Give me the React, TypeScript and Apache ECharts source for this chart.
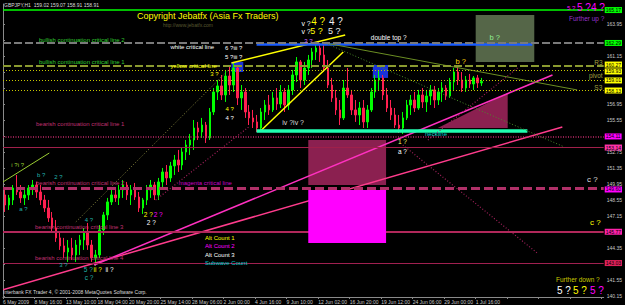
import React, { useEffect, useRef } from "react";
import * as echarts from "echarts";

// ---------- data ----------
const timeLabels = ["6 May 2009", "8 May 16:00", "13 May 10:00", "18 May 04:00", "20 May 20:00", "25 May 14:00", "28 May 06:00", "2 Jun 00:00", "4 Jun 16:00", "9 Jun 10:00", "12 Jun 02:00", "16 Jun 20:00", "19 Jun 12:00", "24 Jun 06:00", "29 Jun 00:00", "1 Jul 16:00"];
const priceTicks = [140.15, 141.55, 142.95, 144.35, 145.75, 147.15, 148.55, 149.95, 151.35, 152.75, 154.15, 155.55, 156.95, 158.35, 159.75, 161.15, 162.55, 163.95];
// tick labels not hidden behind the price-level boxes
const priceTickLabels = [140.15, 141.55, 144.35, 147.15, 148.55, 149.95, 151.35, 152.75, 155.55, 156.95, 161.15, 163.95];

// each drawn candle groups 8 H1 bars (bar index 8k..8k+7)
const opens = [148.99,148.11,148.55,149.60,149.25,148.73,148.99,149.60,149.86,149.25,148.55,147.85,146.98,146.10,145.23,144.53,144.00,144.35,143.74,144.61,145.05,145.75,144.61,143.48,143.74,145.93,147.24,148.38,148.99,148.73,149.43,149.86,148.99,149.43,148.81,147.85,148.55,149.43,149.86,148.99,150.13,151.00,150.48,151.53,152.05,151.61,152.75,153.36,153.80,154.85,154.50,155.11,153.98,156.25,158.00,158.53,157.74,159.40,158.61,160.10,157.48,158.00,156.25,155.73,155.38,154.85,156.25,156.86,156.43,157.48,156.95,158.00,156.86,158.18,159.49,160.63,159.05,160.10,160.80,161.50,161.85,161.24,160.10,158.61,157.48,156.43,155.73,158.35,157.74,156.43,155.99,156.60,155.38,156.43,158.00,159.05,159.23,157.74,156.60,155.99,155.11,154.85,155.73,156.86,157.30,156.60,157.74,157.13,157.65,158.18,157.30,158.00,158.35,157.65,158.88,159.75,159.05,158.35,159.05,158.70,159.23,158.79];
const closes = [148.11,148.73,149.60,149.25,148.73,148.99,149.60,149.86,149.25,148.55,147.85,146.98,146.10,145.23,144.53,144.00,144.35,143.74,144.61,145.05,145.75,144.61,143.48,143.74,145.93,147.24,148.38,148.99,148.73,149.43,149.86,148.99,149.43,148.81,147.85,148.55,149.43,149.86,148.99,150.13,151.00,150.48,151.53,152.05,151.61,152.75,153.36,153.80,154.85,154.50,155.11,153.98,156.25,158.00,158.53,157.74,159.40,158.61,160.10,157.48,158.00,156.25,155.73,155.38,154.85,156.25,156.86,156.43,157.48,156.95,158.00,156.86,158.18,159.49,160.63,159.05,160.10,160.80,161.50,161.85,161.24,160.10,158.61,157.48,156.43,155.73,158.35,157.74,156.43,155.99,156.60,155.38,156.43,158.00,159.05,159.23,157.74,156.60,155.99,155.11,154.85,155.73,156.86,157.30,156.60,157.74,157.13,157.65,158.18,157.30,158.00,158.35,157.65,158.88,159.75,159.05,158.35,159.05,158.70,159.23,158.79,158.91];
const lows = [147.50,147.68,148.11,148.99,148.29,148.11,148.55,148.99,148.73,148.11,147.50,146.63,145.75,144.88,144.18,143.48,143.13,143.30,143.13,143.74,144.18,144.18,143.13,142.78,143.48,145.49,146.80,148.11,148.38,148.11,148.73,148.55,148.11,148.55,147.50,147.33,148.11,148.73,148.55,148.55,149.43,149.86,150.13,150.74,151.00,151.18,152.05,152.49,152.93,153.80,153.98,153.54,153.80,155.99,157.30,157.30,157.13,157.74,158.00,156.86,156.43,155.73,155.11,154.85,154.50,154.50,155.55,155.99,156.25,156.43,156.60,156.25,156.43,157.74,158.88,158.35,158.61,159.49,160.10,160.80,160.63,159.75,158.35,157.13,155.99,155.11,155.55,157.48,155.99,155.38,155.11,154.85,154.85,156.25,157.48,158.18,157.30,156.25,155.55,154.85,154.41,154.33,155.55,155.99,156.25,156.43,156.60,156.25,156.86,156.60,156.86,157.13,157.30,157.48,158.18,158.61,158.00,158.00,158.35,158.18,158.35,158.53];
const highs = [149.43,148.99,149.86,150.74,149.86,149.60,149.86,150.30,150.13,149.86,148.99,148.55,147.50,146.80,145.75,145.23,145.05,145.23,145.05,145.49,146.10,146.54,145.05,144.18,146.36,147.50,148.73,149.60,149.60,149.86,150.30,150.13,149.86,150.04,149.25,148.73,149.86,150.30,150.13,150.48,151.35,151.61,151.88,152.49,152.93,153.10,153.80,154.33,155.55,155.38,155.73,155.38,156.60,158.35,159.05,159.49,159.93,160.36,160.63,160.36,158.61,158.35,156.86,156.43,155.99,156.60,157.30,157.74,158.00,158.35,158.61,158.35,158.61,159.93,161.06,160.80,160.63,161.24,161.85,162.38,162.29,162.11,160.80,159.23,158.18,157.30,159.05,160.10,158.18,157.30,157.13,157.30,156.86,158.35,159.49,159.93,159.49,158.35,157.30,156.60,155.99,156.25,157.30,157.74,158.00,158.18,158.35,158.18,158.61,158.53,158.35,158.88,158.61,159.23,160.10,160.36,159.75,159.40,159.58,159.40,159.49,159.23];

// horizontal price levels
const levelPrices = [165.17, 162.29, 160.27, 159.93, 159.01, 158.13, 154.11, 153.14, 149.60, 145.77, 143.03];

// trend lines: [bar1, price1, bar2, price2]
const trendLines = [
  [0, 140.69, 1136, 154.94],
  [185, 142.86, 1116, 159.49],
  [464, 160.54, 695, 162.99],
  [523, 154.59, 691, 161.50],
  [515, 154.59, 1065, 154.59],
  [515, 162.20, 1075, 162.20],
  [654, 162.29, 1166, 158.18],
  [654, 162.29, 1140, 153.19],
  [0, 150.13, 94, 152.66],
  [148, 146.63, 458, 159.93],
  [812, 153.36, 1085, 143.91],
  [310, 148.55, 499, 154.94],
  [863, 153.80, 1045, 160.10],
];

// boxes: [bar1, price1, bar2, price2]
const boxes = [
  [960, 160.62, 1079, 164.74],
  [620, 149.86, 778, 153.80],
  [464, 159.75, 488, 160.63],
  [751, 159.23, 782, 160.36],
];
const magentaBox = [[620, 144.79, 778, 149.43]];
const triangle = [[883, 154.85, 1025, 154.85, 1025, 157.91]];

// text annotations anchored at [bar, price]
const notes: [string, number, number][] = [
  ["bullish continuation critical line 2", 73, 162.55],
  ["white critical line", 340, 161.94],
  ["bullish continuation critical line 1", 73, 160.63],
  ["yellow critical line", 340, 160.27],
  ["double top ?", 747, 162.81],
  ["b ?", 988, 162.81],
  ["b ?", 919, 160.71],
  ["R3", 1201, 160.54],
  ["pivot", 1190, 159.40],
  ["S3", 1201, 158.35],
  ["neckline", 857, 154.33],
  ["1 ?", 802, 153.63],
  ["a ?", 802, 152.75],
  ["c ?", 1186, 150.30],
  ["c ?", 1192, 146.54],
  ["bearish continuation critical line 1", 67, 155.20],
  ["bearish continuation critical line 2", 67, 150.04],
  ["magenta critical line", 357, 150.04],
  ["bearish continuation critical line 3", 65, 146.19],
  ["bearish continuation critical line 4", 65, 143.48],
  ["v ?", 606, 163.95],
  ["4 ?", 626, 164.21],
  ["4 ?", 662, 164.21],
  ["v ?", 606, 163.25],
  ["5 ?", 624, 163.34],
  ["5 ?", 660, 163.34],
  ["3 ?", 612, 162.46],
  ["6 ?iii ?", 451, 161.85],
  ["5 ?iii ?", 451, 161.06],
  ["3 ?", 421, 159.58],
  ["4 ?", 452, 156.51],
  ["4 ?", 452, 155.73],
  ["iv ?iv ?", 567, 155.29],
  ["i ?i ?", 17, 151.61],
  ["b ?", 69, 150.74],
  ["2 ?", 104, 150.57],
  ["a ?", 33, 147.76],
  ["4 ?", 166, 146.80],
  ["3 ?", 114, 142.86],
  ["5 ?", 164, 142.43],
  ["ii ?", 184, 142.43],
  ["ii ?", 208, 142.43],
  ["c ?", 166, 141.73],
  ["2 ?", 286, 147.24],
  ["2 ?", 306, 147.24],
  ["2 ?", 292, 146.54],
];

// ---------- styles ----------
const FONT = 'Arial, "Liberation Sans", sans-serif';
const levelStyles = [
  { color: "#00ff00", width: 1.5, type: "solid", box: "#00ff00", dy: 0 },
  { color: "#7a7a7a", width: 2, type: [8, 3], box: "#00ff00", dy: 0 },
  { color: "#8a9a30", width: 2, type: [8, 3], box: "#ffff00", dy: -1.5 },
  { color: "#c8c800", width: 1, type: [1, 2], box: "#ffff00", dy: 1.5 },
  { color: "#c8c800", width: 1, type: [1, 2], box: "#ffff00", dy: 0 },
  { color: "#c8c800", width: 1, type: [1, 2], box: "#ffff00", dy: 0 },
  { color: "#c02a68", width: 1.5, type: [1, 1.5], box: "#ff00ff", dy: 0 },
  { color: "#a0204a", width: 1, type: "solid", box: "#ff33aa", dy: 0 },
  { color: "#b03068", width: 3, type: [9, 4], box: "#ff00ff", dy: 1.5 },
  { color: "#b0285a", width: 2, type: "solid", box: "#ff22aa", dy: 0 },
  { color: "#a02050", width: 1, type: "solid", box: "#e0205a", dy: 0 },
];
const trendStyles = [
  { color: "#ff3c8c", width: 1.5, type: "solid" },
  { color: "#ff30c0", width: 1.5, type: "solid" },
  { color: "#ffff00", width: 1.5, type: "solid" },
  { color: "#ffff00", width: 1.5, type: "solid" },
  { color: "#20ffb0", width: 3.5, type: "solid" },
  { color: "#1a5cff", width: 2.5, type: "solid" },
  { color: "#6b8e23", width: 1, type: "solid" },
  { color: "#4a8a2a", width: 1, type: [1, 2] },
  { color: "#9acd32", width: 1, type: "solid" },
  { color: "#8a8a40", width: 1, type: [1, 2] },
  { color: "#a0205a", width: 1.2, type: [1, 2] },
  { color: "#a0205a", width: 1.2, type: [1, 2] },
  { color: "#a0205a", width: 1.2, type: [1, 2] },
];
const boxColors = ["rgba(100,120,85,0.85)", "#8b2050", "rgba(30,60,255,0.85)", "rgba(30,60,255,0.85)"];
const noteStyles: [string, number][] = [
  ["#32cd32", 6], ["#ffffff", 6], ["#32cd32", 6], ["#ffff00", 6], ["#ffffff", 6.5],
  ["#90ee90", 7.5], ["#ffd700", 7.5], ["#a0a040", 6.5], ["#a0a040", 6.5], ["#a0a040", 6.5],
  ["#00cccc", 6], ["#ffff66", 6.5], ["#ffffff", 6.5], ["#dddddd", 8], ["#ffff00", 8],
  ["#c03070", 6], ["#c03070", 6], ["#cc00cc", 6], ["#c03070", 6], ["#c03070", 6],
  ["#ffffff", 7], ["#ffff00", 10], ["#eeeeee", 10], ["#ffffff", 7], ["#ffff00", 9], ["#eeeeee", 9],
  ["#cc66ff", 6], ["#ffffff", 6], ["#ffffff", 6], ["#ffff00", 6], ["#ffff00", 6], ["#ffffff", 6],
  ["#dddddd", 7], ["#9acd32", 6], ["#20b2aa", 6], ["#20b2aa", 6], ["#20b2aa", 6], ["#20b2aa", 6],
  ["#20b2aa", 6], ["#20b2aa", 6.5], ["#ffff00", 6.5], ["#ffffff", 6.5], ["#20b2aa", 6.5],
  ["#ffff00", 6.5], ["#ff00ff", 6.5], ["#ffffff", 6.5],
];

function screenText(x: number, y: number, text: string, fill: string, size: number) {
  return { type: "text", x, y, z: 100, silent: true, style: { text, fill, fontSize: size, fontFamily: FONT, verticalAlign: "middle", align: "left" } };
}

function rectRender(colors: string[]) {
  return (params: any, api: any) => {
    const p1 = api.coord([api.value(0), api.value(1)]);
    const p2 = api.coord([api.value(2), api.value(3)]);
    return {
      type: "rect",
      shape: { x: Math.min(p1[0], p2[0]), y: Math.min(p1[1], p2[1]), width: Math.abs(p2[0] - p1[0]), height: Math.abs(p2[1] - p1[1]) },
      style: { fill: colors[params.dataIndex % colors.length] },
    };
  };
}

export default function App() {
  const ref = useRef<HTMLDivElement>(null);
  useEffect(() => {
    if (!ref.current) return;
    const chart = echarts.init(ref.current, null, { renderer: "svg" });
    const candles = opens.map((o, k) => [k * 8 + 4, o, closes[k], lows[k], highs[k]]);
    const option: any = {
      animation: false,
      backgroundColor: "#000000",
      textStyle: { fontFamily: FONT },
      grid: { left: 3, right: 19, top: 4, bottom: 8, containLabel: false },
      xAxis: {
        type: "value", min: 0, max: 1220, interval: 64,
        axisLine: { show: true, lineStyle: { color: "#8a8a8a", width: 1 } },
        axisTick: { show: true, length: 2, lineStyle: { color: "#8a8a8a" } },
        axisLabel: {
          color: "#c8c8c8", fontSize: 5, align: "left", margin: 2,
          showMinLabel: true, showMaxLabel: false,
          formatter: (v: number) => (v % 64 === 0 && timeLabels[v / 64]) ? timeLabels[v / 64] : "",
        },
        splitLine: { show: false },
      },
      yAxis: {
        type: "value", position: "right", min: 140.06, max: 165.70,
        axisLine: { show: true, lineStyle: { color: "#8a8a8a", width: 1 } },
        axisTick: { show: true, length: 2, customValues: priceTicks, lineStyle: { color: "#8a8a8a" } },
        axisLabel: { color: "#c8c8c8", fontSize: 5, margin: 3, customValues: priceTickLabels, formatter: (v: number) => v.toFixed(2) },
        splitLine: { show: false },
      },
      graphic: [
        screenText(4, 5, "GBPJPY,H1  159.02 159.07 158.91 158.91", "#dcdcdc", 5),
        screenText(137, 16, "Copyright Jebatfx (Asia Fx Traders)", "#ffff00", 9),
        screenText(163, 25, "http://www.jebatfx.com", "#5a5a30", 5),
        screenText(567, 8, "5 ?", "#ff00ff", 6),
        screenText(577, 7, "5 ?4 ?", "#ff00ff", 10),
        screenText(569, 18, "Further up ?", "#9933cc", 6.5),
        screenText(205, 238, "Alt Count 1", "#ffff00", 6),
        screenText(205, 246, "Alt Count 2", "#ff00ff", 6),
        screenText(205, 255, "Alt Count 3", "#ffffff", 6),
        screenText(205, 263, "Subwave Count", "#00cccc", 6),
        screenText(556, 279, "Further down ?", "#c8c800", 6.5),
        screenText(557, 290, "5 ?", "#ffffff", 10),
        screenText(573, 290, "5 ?", "#ffff00", 10),
        screenText(590, 290, "5 ?", "#ff00ff", 10),
        screenText(3, 292, "Interbank FX Trader 4, © 2001-2008 MetaQuotes Software Corp.", "#dcdcdc", 5),
      ],
      series: [
        {
          type: "custom", name: "boxes", z: 1, clip: false,
          data: boxes, encode: { x: [0, 2], y: [1, 3] },
          renderItem: rectRender(boxColors),
        },
        {
          type: "custom", name: "triangle", z: 1, clip: false,
          data: triangle, encode: { x: [0, 2, 4], y: [1, 3, 5] },
          renderItem: (params: any, api: any) => {
            const pts = [0, 2, 4].map((i) => api.coord([api.value(i), api.value(i + 1)]));
            return { type: "polygon", shape: { points: pts }, style: { fill: "#8b2050" } };
          },
        },
        {
          type: "candlestick", name: "GBPJPY", z: 3, barWidth: 2,
          data: candles, encode: { x: 0, y: [1, 2, 3, 4] },
          itemStyle: { color: "#00ff00", color0: "#ff2050", borderColor: "#00ff00", borderColor0: "#ff2050", borderWidth: 1 },
          markLine: {
            silent: true, symbol: ["none", "none"], animation: false,
            data: levelPrices.map((p, i) => ({
              yAxis: p,
              lineStyle: { color: levelStyles[i].color, width: levelStyles[i].width, type: levelStyles[i].type },
              label: {
                show: true, position: "end", distance: 1, formatter: p.toFixed(2), offset: [0, levelStyles[i].dy],
                backgroundColor: levelStyles[i].box, color: "#000000", fontSize: 5, padding: [0, 1], lineHeight: 6,
              },
            })),
          },
        },
        {
          type: "lines", coordinateSystem: "cartesian2d", z: 4, silent: true,
          data: trendLines.map((t, i) => ({ coords: [[t[0], t[1]], [t[2], t[3]]], lineStyle: { ...trendStyles[i], opacity: 1 } })),
        },
        {
          type: "custom", name: "magentaBox", z: 5, clip: false,
          data: magentaBox, encode: { x: [0, 2], y: [1, 3] },
          renderItem: rectRender(["#ff00ff"]),
        },
        {
          type: "custom", name: "notes", z: 6, clip: false, silent: true,
          data: notes.map((n) => [n[1], n[2]]), encode: { x: 0, y: 1 },
          renderItem: (params: any, api: any) => {
            const p = api.coord([api.value(0), api.value(1)]);
            const n = notes[params.dataIndex];
            const s = noteStyles[params.dataIndex];
            return {
              type: "text", x: p[0], y: p[1],
              style: { text: n[0], fill: s[0], fontSize: s[1], fontFamily: FONT, verticalAlign: "middle", align: "left" },
            };
          },
        },
      ],
    };
    chart.setOption(option);
    return () => chart.dispose();
  }, []);
  return <div ref={ref} style={{ position: "fixed", left: 0, top: 0, width: 625, height: 305, background: "#000" }} />;
}
